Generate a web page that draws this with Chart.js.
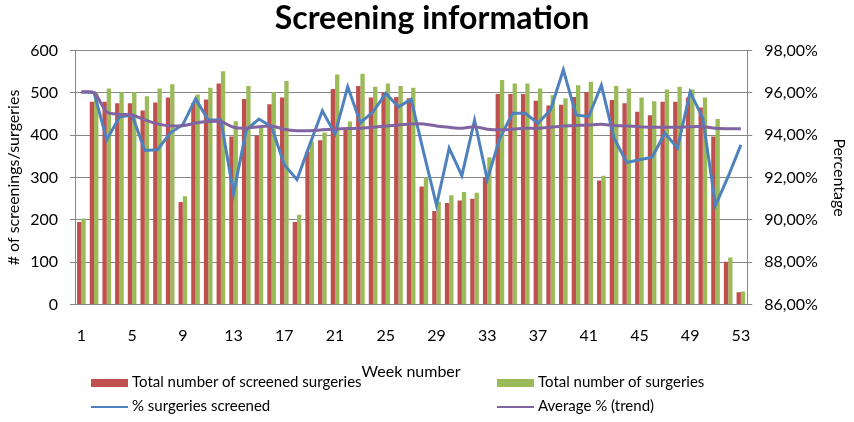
<!DOCTYPE html>
<html>
<head>
<meta charset="utf-8">
<script src="https://cdn.jsdelivr.net/npm/chart.js@4"></script>
<style>
  body { margin: 0; background: #fff; }
  #wrap { position: relative; width: 854px; height: 422px; }
  #myChart { position: absolute; left: 0; top: 0; }
  .leg { position: absolute; font-family: Lato, sans-serif; font-size: 15px; color: #000; white-space: nowrap; line-height: 16px; }
  .leg span.box { display: inline-block; width: 37px; height: 8px; vertical-align: middle; margin-right: 4px; }
  .leg span.ln { display: inline-block; width: 37px; height: 2px; vertical-align: middle; margin-right: 4px; }
</style>
</head>
<body>
<div id="wrap">
  <canvas id="myChart" width="854" height="422"></canvas>
</div>
<script>
const weeks = [1, 2, 3, 4, 5, 6, 7, 8, 9, 10, 11, 12, 13, 14, 15, 16, 17, 18, 19, 20,
  21, 22, 23, 24, 25, 26, 27, 28, 29, 30, 31, 32, 33, 34, 35, 36, 37, 38, 39, 40,
  41, 42, 43, 44, 45, 46, 47, 48, 49, 50, 51, 52, 53];

const screened = [195, 479, 479, 475, 475, 458, 477, 489, 242, 476, 484, 522, 397, 485, 399, 473, 489, 195, 361, 388,
  509, 416, 516, 489, 501, 490, 487, 279, 221, 240, 246, 250, 300, 497, 497, 497, 481, 470, 472, 490,
  501, 293, 483, 475, 455, 447, 479, 479, 489, 465, 397, 101, 29];

const surgeries = [203, 499, 510, 501, 501, 492, 510, 520, 256, 496, 512, 551, 433, 516, 420, 501, 528, 212, 385, 406,
  543, 432, 545, 514, 522, 516, 512, 300, 243, 258, 266, 264, 348, 530, 522, 522, 510, 494, 487, 518,
  526, 304, 516, 510, 489, 480, 508, 514, 508, 489, 438, 111, 31];

const pctScreened = [96.04, 96.01, 93.78, 94.85, 94.95, 93.28, 93.31, 94.1, 94.5, 95.71, 94.72, 94.72, 91.24, 94.25, 94.76, 94.4, 92.6, 91.9, 93.54, 95.15,
  94.06, 96.28, 94.59, 95.1, 95.97, 95.34, 95.69, 93.15, 90.7, 93.39, 92.09, 94.7, 91.9, 93.86, 95.03, 95.03, 94.56, 95.2, 97.09, 94.95,
  94.87, 96.36, 93.86, 92.71, 92.84, 92.96, 94.09, 93.39, 96.04, 94.79, 90.68, 92.05, 93.54];

const pctTrend = [96.04, 96.0, 95.1, 94.98, 94.95, 94.72, 94.53, 94.44, 94.44, 94.57, 94.64, 94.64, 94.37, 94.33, 94.4, 94.43, 94.28, 94.21, 94.21, 94.25,
  94.28, 94.31, 94.33, 94.37, 94.43, 94.48, 94.53, 94.53, 94.43, 94.37, 94.32, 94.4, 94.28, 94.25, 94.28, 94.32, 94.32, 94.37, 94.43, 94.46,
  94.48, 94.51, 94.46, 94.43, 94.4, 94.37, 94.37, 94.37, 94.4, 94.4, 94.32, 94.3, 94.3];

const pctTicks = [86, 88, 90, 92, 94, 96, 98];

const seriesNames = ["Total number of screened surgeries", "Total number of surgeries", "% surgeries screened", "Average % (trend)"];
const seriesColors = ["#C0504D", "#9BBB59", "#4F81BD", "#8064A2"];

const gridGray = "#868686";
const font = "Lato";

let chart = new Chart(document.getElementById("myChart"), {
  type: "bar",
  data: {
    labels: weeks,
    datasets: [
      {
        label: seriesNames[0],
        data: screened,
        backgroundColor: seriesColors[0],
        yAxisID: "y",
        order: 2,
        categoryPercentage: 0.68,
        barPercentage: 1.0,
      },
      {
        label: seriesNames[1],
        data: surgeries,
        backgroundColor: seriesColors[1],
        yAxisID: "y",
        order: 3,
        categoryPercentage: 0.68,
        barPercentage: 1.0,
      },
      {
        type: "line",
        label: seriesNames[2],
        data: pctScreened,
        borderColor: seriesColors[2],
        borderWidth: 3,
        pointRadius: 0,
        tension: 0,
        fill: false,
        yAxisID: "y1",
        order: 1,
      },
      {
        type: "line",
        label: seriesNames[3],
        data: pctTrend,
        borderColor: seriesColors[3],
        borderWidth: 3,
        pointRadius: 0,
        tension: 0.3,
        fill: false,
        yAxisID: "y1",
        order: 0,
      },
    ],
  },
  options: {
    responsive: false,
    animation: false,
    layout: { padding: { left: 4, right: -6, top: 0, bottom: 41 } },
    plugins: {
      legend: { display: false },
      tooltip: { enabled: false },
      title: {
        display: true,
        text: "Screening information",
        color: "#000",
        font: { family: font, size: 32, weight: "bold" },
        padding: { top: -1, bottom: 13 },
      },
    },
    scales: {
      x: {
        offset: true,
        grid: { display: false, drawTicks: false },
        border: { display: true, color: gridGray },
        ticks: {
          autoSkip: false,
          maxRotation: 0,
          padding: 22,
          color: "#000",
          font: { family: font, size: 16 },
          callback: function (val, i) {
            return i % 4 === 0 ? weeks[i] : "";
          },
        },
        title: {
          display: true,
          text: "Week number",
          color: "#000",
          font: { family: font, size: 16 },
          padding: { top: -6, bottom: 0 },
        },
      },
      y: {
        position: "left",
        min: 0,
        max: 600,
        grid: { color: gridGray, tickLength: 5 },
        border: { color: gridGray },
        ticks: {
          stepSize: 100,
          padding: 12,
          color: "#000",
          font: { family: font, size: 16 },
        },
        title: {
          display: true,
          text: "# of screenings/surgeries",
          color: "#000",
          font: { family: font, size: 16 },
          padding: { top: 0, bottom: -5 },
        },
      },
      y1: {
        position: "right",
        min: 86,
        max: 98,
        grid: { drawOnChartArea: false, color: gridGray, tickLength: 5 },
        border: { color: gridGray },
        afterBuildTicks: function (axis) {
          axis.ticks = pctTicks.map(function (v) { return { value: v }; });
        },
        ticks: {
          padding: 12,
          color: "#000",
          font: { family: font, size: 16 },
          callback: function (v) {
            return v.toFixed(2).replace(".", ",") + "%";
          },
        },
        title: {
          display: true,
          text: "Percentage",
          color: "#000",
          font: { family: font, size: 16 },
          padding: { top: 11, bottom: 0 },
        },
      },
    },
  },
});

// legend in two rows, like the spreadsheet one
let wrap = document.getElementById("wrap");
let legPos = [[91, 373], [497, 373], [91, 397], [497, 397]];
seriesNames.forEach(function (name, i) {
  let d = document.createElement("div");
  d.className = "leg";
  d.style.left = legPos[i][0] + "px";
  d.style.top = legPos[i][1] + "px";
  let mark = document.createElement("span");
  mark.className = i < 2 ? "box" : "ln";
  mark.style.background = seriesColors[i];
  d.appendChild(mark);
  d.appendChild(document.createTextNode(name));
  wrap.appendChild(d);
});
</script>
</body>
</html>
